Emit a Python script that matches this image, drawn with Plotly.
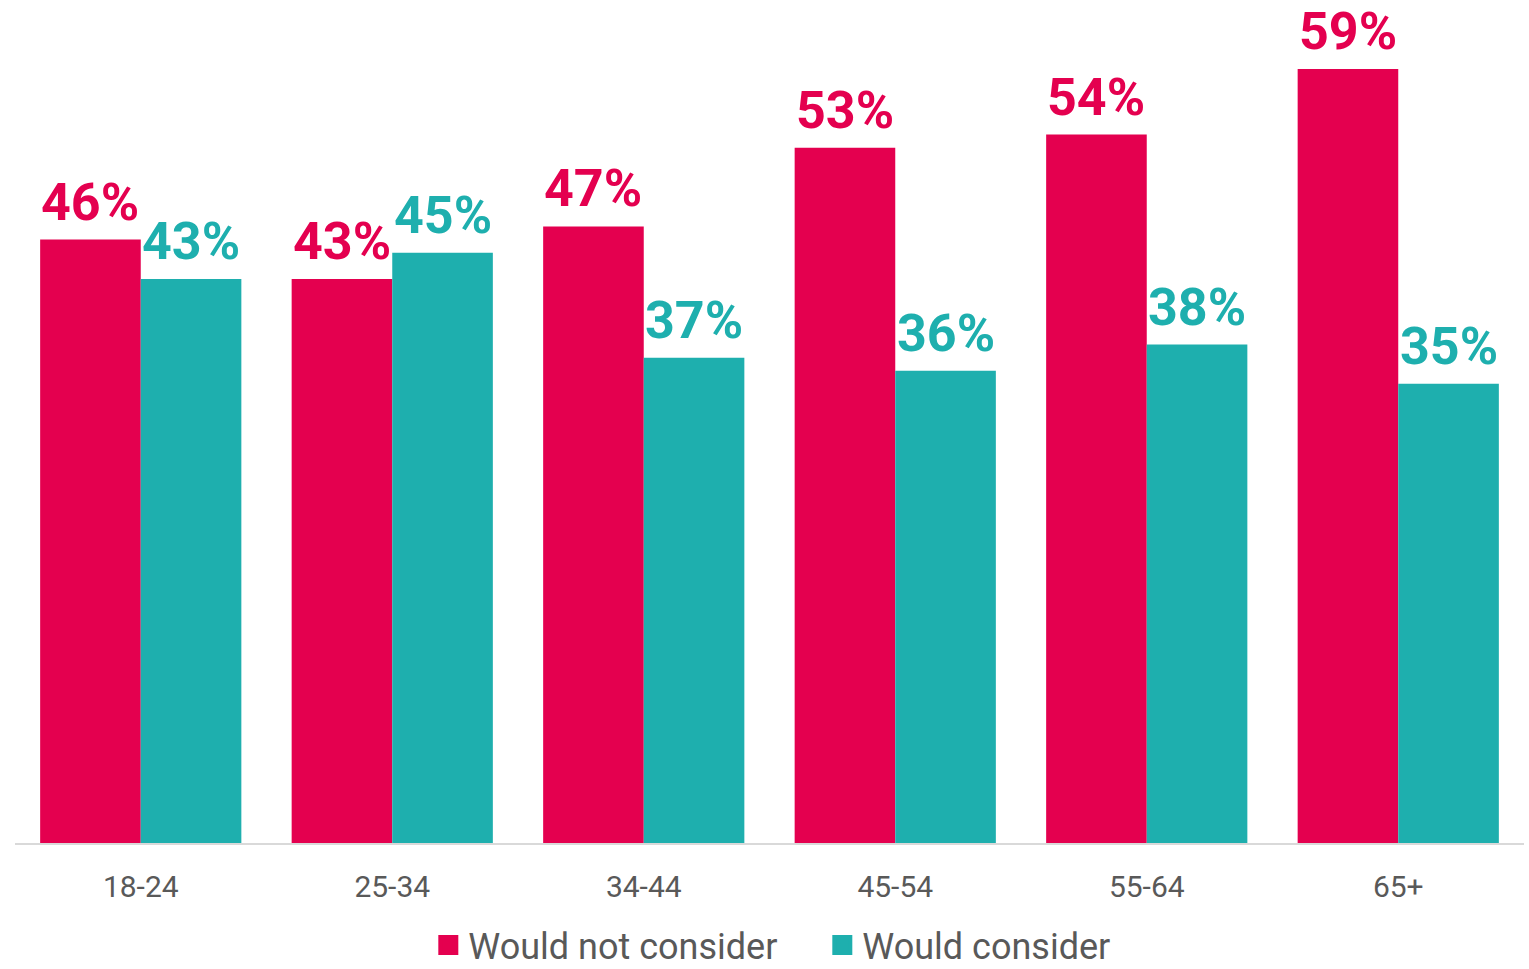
import plotly.graph_objects as go

categories = ["18-24", "25-34", "34-44", "45-54", "55-64", "65+"]
would_not = [46, 43, 47, 53, 54, 59]
would = [43, 45, 37, 36, 38, 35]
series_names = ["Would not consider", "Would consider"]

PINK = "#E4004F"
TEAL = "#1EAFAE"

W, H = 1529, 969
M = dict(l=15, r=5, t=10, b=126)
BARGAP = 0.2
plot_w = W - M["l"] - M["r"]
bar_px = plot_w / len(categories) * (1 - BARGAP) / 2

fig = go.Figure()
series = [(series_names[0], would_not, PINK, -0.5), (series_names[1], would, TEAL, 0.5)]
for name, vals, col, side in series:
    fig.add_trace(go.Bar(
        x=categories, y=vals, name=name, showlegend=False,
        marker=dict(color=col, line=dict(width=0)),
    ))
    for c, v in zip(categories, vals):
        fig.add_annotation(
            x=c, y=v, xref="x", yref="y", text=f"{v}%", showarrow=False,
            xanchor="center", yanchor="bottom", xshift=side * bar_px, yshift=6,
            borderpad=0,
            font=dict(family="Roboto", size=52, color=col, weight="bold"),
        )
# legend entries with square swatches
for name, col in [(series_names[0], PINK), (series_names[1], TEAL)]:
    fig.add_trace(go.Scatter(
        x=[None], y=[None], mode="markers", name=name,
        marker=dict(symbol="square", size=16, color=col, line=dict(width=4, color=col)),
    ))

fig.update_layout(
    width=W, height=H,
    margin=dict(**M, autoexpand=False),
    paper_bgcolor="white", plot_bgcolor="white",
    barmode="group", bargap=BARGAP, bargroupgap=0,
    font=dict(family="Roboto", color="#595959"),
    showlegend=True,
    legend=dict(orientation="h", x=0.535, xanchor="center", y=-0.1225, yanchor="middle",
                font=dict(size=36, color="#595959"), traceorder="normal",
                entrywidth=349),
)
fig.update_xaxes(showline=True, linecolor="#d9d9d9", linewidth=2, ticks="",
                 tickfont=dict(size=30, color="#595959"), showgrid=False,
                 ticklabelstandoff=16, automargin=False)
fig.update_yaxes(range=[0, 63.5], visible=False, showgrid=False, zeroline=False)

fig.write_html("out.html", config={"displayModeBar": False},
               post_script="document.body.style.margin='0';")
